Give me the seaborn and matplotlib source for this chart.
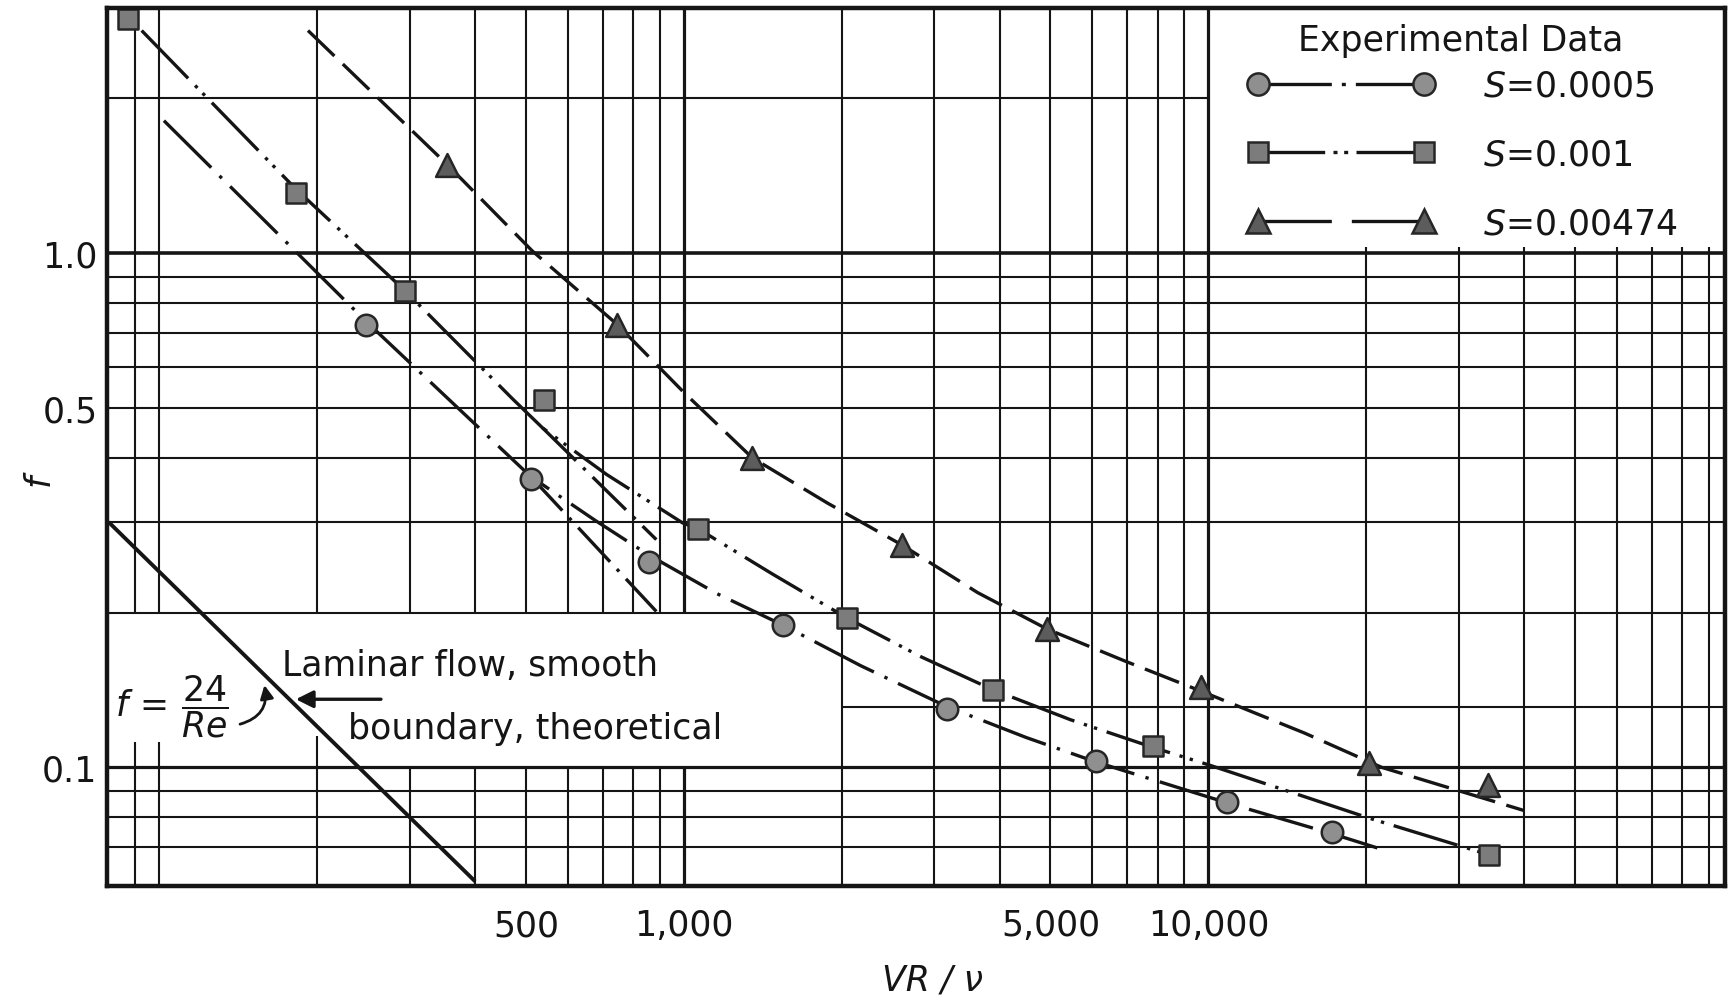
import matplotlib
matplotlib.use("Agg")
import matplotlib.pyplot as plt
from matplotlib.lines import Line2D
from matplotlib.ticker import NullLocator, FixedLocator, FixedFormatter
import seaborn as sns

# ---------------- data ----------------
circle_re = [248, 510, 857, 1546, 3170, 6095, 10860, 17200]
circle_f = [0.725, 0.364, 0.251, 0.189, 0.130, 0.103, 0.0858, 0.0747]

square_re = [87, 182, 294, 541, 1065, 2050, 3880, 7850, 34300]
square_f = [2.86, 1.31, 0.845, 0.518, 0.291, 0.195, 0.1416, 0.110, 0.0676]

tri_re = [354, 744, 1350, 2600, 4930, 9660, 20200, 34100]
tri_f = [1.486, 0.725, 0.400, 0.271, 0.186, 0.1435, 0.102, 0.0924]

# hand-drawn fitted curves
circle_curve_re = [102, 248, 510, 678, 856, 1157, 1546, 2172, 3170, 4494, 6095, 10860, 17200, 21000]
circle_curve_f = [1.81, 0.736, 0.368, 0.302, 0.259, 0.2176, 0.189, 0.1577, 0.1313, 0.1143, 0.1025, 0.0853, 0.0743, 0.0697]
circle_branch_re = [510, 886]
circle_branch_f = [0.368, 0.201]

square_curve_re = [92.5, 182, 294, 472, 538, 712, 995, 1065, 1474, 2050, 2835, 3880, 5455, 7850, 10050, 20300, 34300]
square_curve_f = [2.71, 1.333, 0.845, 0.520, 0.457, 0.3713, 0.2987, 0.291, 0.2378, 0.195, 0.164, 0.1416, 0.1238, 0.1093, 0.101, 0.0796, 0.0676]
square_branch_re = [538, 886]
square_branch_f = [0.457, 0.2773]

tri_curve_re = [192, 354, 514, 744, 1000, 1350, 1878, 2600, 3631, 4930, 6950, 9660, 15250, 21400, 40000]
tri_curve_f = [2.71, 1.486, 1.01, 0.7285, 0.536, 0.400, 0.3266, 0.271, 0.2187, 0.1857, 0.1608, 0.1408, 0.1166, 0.100, 0.0824]

# theoretical laminar line f = 24/Re
laminar_re = [80, 400]
laminar_f = [0.30, 0.06]

series_labels = ["0.0005", "0.001", "0.00474"]
x_tick_values = [500, 1000, 5000, 10000]
x_tick_labels = ["500", "1,000", "5,000", "10,000"]
y_tick_values = [0.1, 0.5, 1.0]
y_tick_labels = ["0.1", "0.5", "1.0"]

# ---------------- style ----------------
sns.set_theme(style="white")
plt.rcParams["font.family"] = ["DejaVu Sans"]
plt.rcParams["mathtext.fontset"] = "dejavusans"

INK = "#151515"
FS = 25
C_FACE, S_FACE, T_FACE = "#8f8f8f", "#7c7c7c", "#5c5c5c"
EDGE = "#262626"

fig = plt.figure(figsize=(17.31, 10.04), dpi=100)
fig.patch.set_facecolor("white")
ax = fig.add_axes([0.0619, 0.1166, 0.9349, 0.8746])
ax.set_facecolor("white")
ax.set_xscale("log")
ax.set_yscale("log")
XLO, XHI = 79.5, 96800
YLO, YHI = 0.0588, 3.0
ax.set_xlim(XLO, XHI)
ax.set_ylim(YLO, YHI)

# ---------------- hand-drawn style log grid ----------------
glw = 1.5
low_dec = [90, 100, 200, 300, 400, 500, 600, 700, 800, 900]
for xv in low_dec:
    ax.vlines(xv, YLO, 0.1, color=INK, lw=glw, zorder=1)
    ax.vlines(xv, 0.2, YHI, color=INK, lw=glw, zorder=1)
for xv, top in [(90, 0.112), (100, 0.112), (200, 0.115)]:
    ax.vlines(xv, 0.1, top, color=INK, lw=glw, zorder=1)
ax.vlines(1000, YLO, 0.1, color=INK, lw=2.3, zorder=1)
ax.vlines(1000, 0.2, YHI, color=INK, lw=2.3, zorder=1)
for xv in [2000, 3000, 4000, 5000, 6000, 7000, 8000, 9000]:
    ax.vlines(xv, YLO, YHI, color=INK, lw=glw, zorder=1)
ax.vlines(10000, YLO, YHI, color=INK, lw=2.3, zorder=1)
for xv in [20000, 30000, 40000, 50000, 60000, 70000, 80000, 90000]:
    ax.vlines(xv, YLO, 1.03, color=INK, lw=glw, zorder=1)

ax.hlines(2.0, XLO, 10000, color=INK, lw=glw, zorder=1)
ax.hlines(1.0, XLO, XHI, color=INK, lw=2.6, zorder=1)
for yv in [0.9, 0.8, 0.7, 0.6, 0.5, 0.4, 0.3, 0.2]:
    ax.hlines(yv, XLO, XHI, color=INK, lw=glw, zorder=1)
ax.hlines(0.131, 2000, XHI, color=INK, lw=glw, zorder=1)
ax.hlines(0.1, XLO, XHI, color=INK, lw=2.3, zorder=1)
for yv in [0.09, 0.08, 0.07]:
    ax.hlines(yv, XLO, XHI, color=INK, lw=glw, zorder=1)

# ---------------- curves ----------------
CLW = 2.4
pat_circle = (0, (20, 3.5, 1.0, 3.5))
pat_square = (0, (20, 3, 1.0, 2.2, 1.0, 3))
pat_tri = (0, (11, 3.5))

def curve(xs, ys, pattern, lw=CLW):
    n_before = len(ax.lines)
    sns.lineplot(x=xs, y=ys, ax=ax, color=INK, lw=lw, sort=False,
                 estimator=None, zorder=3)
    for ln in ax.lines[n_before:]:
        ln.set_linestyle(pattern)
        ln.set_solid_capstyle("butt")
        ln.set_dash_capstyle("butt")

curve(circle_curve_re, circle_curve_f, pat_circle)
curve(circle_branch_re, circle_branch_f, (0, (14, 3, 1.0, 3)))
curve(square_curve_re, square_curve_f, pat_square)
curve(square_branch_re, square_branch_f, (0, (14, 3, 1.0, 3)))
curve(tri_curve_re, tri_curve_f, pat_tri)
curve(laminar_re, laminar_f, "-", lw=2.8)

# ---------------- markers ----------------
sns.scatterplot(x=circle_re, y=circle_f, ax=ax, marker="o", s=240,
                color=C_FACE, edgecolor=EDGE, linewidth=1.8, zorder=5)
sns.scatterplot(x=square_re, y=square_f, ax=ax, marker="s", s=220,
                color=S_FACE, edgecolor=EDGE, linewidth=1.8, zorder=5)
sns.scatterplot(x=tri_re, y=tri_f, ax=ax, marker="^", s=270,
                color=T_FACE, edgecolor=EDGE, linewidth=1.8, zorder=5)

# ---------------- axes, ticks, labels ----------------
for sp in ax.spines.values():
    sp.set_visible(True)
    sp.set_color(INK)
    sp.set_linewidth(3.2)
    sp.set_zorder(6)

ax.xaxis.set_major_locator(FixedLocator(x_tick_values))
ax.xaxis.set_major_formatter(FixedFormatter(x_tick_labels))
ax.yaxis.set_major_locator(FixedLocator(y_tick_values))
ax.yaxis.set_major_formatter(FixedFormatter(y_tick_labels))
ax.xaxis.set_minor_locator(NullLocator())
ax.yaxis.set_minor_locator(NullLocator())
ax.tick_params(axis="x", length=0, pad=16, labelsize=FS, labelcolor=INK)
ax.tick_params(axis="y", length=0, pad=7, labelsize=FS, labelcolor=INK)

ax.set_xlabel("VR / \u03bd", fontsize=FS, style="italic", color=INK)
ax.xaxis.set_label_coords(0.51, -0.087)
ax.set_ylabel("f", fontsize=FS, style="italic", color=INK, rotation=90)
ax.yaxis.set_label_coords(-0.032, 0.463)

# ---------------- legend in the upper-right cell ----------------
handles = [
    Line2D([0], [0], color=INK, lw=CLW, linestyle=(0, (22, 3, 1.2, 3, 40, 3)),
           marker="o", markersize=16, markerfacecolor=C_FACE,
           markeredgecolor=EDGE, markeredgewidth=1.8),
    Line2D([0], [0], color=INK, lw=CLW, linestyle=(0, (20, 2.5, 1.2, 2, 1.2, 2.5, 40, 3)),
           marker="s", markersize=15, markerfacecolor=S_FACE,
           markeredgecolor=EDGE, markeredgewidth=1.8),
    Line2D([0], [0], color=INK, lw=CLW, linestyle=(0, (22, 6, 40, 3)),
           marker="^", markersize=17, markerfacecolor=T_FACE,
           markeredgecolor=EDGE, markeredgewidth=1.8),
]
labels = ["$S$=" + v for v in series_labels]
leg = ax.legend(handles, labels, numpoints=2,
                handlelength=5.37, handletextpad=1.4, labelspacing=1.0,
                fontsize=FS, frameon=False,
                loc="center left", bbox_to_anchor=(0.705, 0.833),
                borderaxespad=0.0, borderpad=0.0)
for t in leg.get_texts():
    t.set_color(INK)
leg.set_zorder(7)
ax.text(0.8363, 0.9635, "Experimental Data", transform=ax.transAxes,
        fontsize=FS, color=INK, ha="center", va="center", zorder=7)

# ---------------- annotation in the white box ----------------
ax.text(0.1078, 0.2516, "Laminar flow, smooth", transform=ax.transAxes,
        fontsize=FS, color=INK, ha="left", va="center", zorder=7)
ax.text(0.1487, 0.1799, "boundary, theoretical", transform=ax.transAxes,
        fontsize=FS, color=INK, ha="left", va="center", zorder=7)
ax.text(0.005, 0.205, r"$f\,=\,\dfrac{24}{Re}$", transform=ax.transAxes,
        fontsize=25, color=INK, ha="left", va="center", zorder=7)
ax.annotate("", xy=(0.1166, 0.2126), xytext=(0.1692, 0.2126),
            xycoords="axes fraction", textcoords="axes fraction",
            arrowprops=dict(arrowstyle="-|>", lw=2.4, color=INK,
                            mutation_scale=26, shrinkA=0, shrinkB=0), zorder=7)
ax.annotate("", xy=(0.0972, 0.2287), xytext=(0.0821, 0.1842),
            xycoords="axes fraction", textcoords="axes fraction",
            arrowprops=dict(arrowstyle="-|>", lw=2.0, color=INK,
                            mutation_scale=20, shrinkA=0, shrinkB=0,
                            connectionstyle="arc3,rad=0.45"), zorder=7)

fig.savefig("out.png", dpi=100, facecolor="white")
